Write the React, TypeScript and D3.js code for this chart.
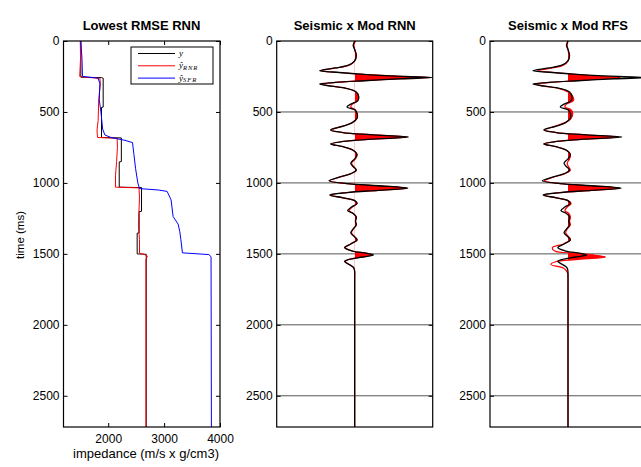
import React, { useRef, useEffect } from "react";
import * as d3 from "d3";

// axes
const TIME_MAX = 2720;
const TIME_TICKS = [0, 500, 1000, 1500, 2000, 2500];
const IMP_DOMAIN = [1200, 4000];
const IMP_TICKS = [2000, 3000, 4000];

// impedance logs (time in ms, impedance in m/s x g/cm3)
const trueTime = [0, 255, 258, 262, 466, 468, 680, 683, 850, 852, 1030, 1033, 1200, 1202, 1352, 1354, 1500, 1503, 2720];
const trueImp = [1510, 1510, 1880, 1910, 1910, 1880, 1880, 2235, 2235, 2197, 2197, 2596, 2596, 2553, 2553, 2518, 2518, 2680, 2680];

const rnrTime = [0, 120, 250, 256, 262, 300, 415, 560, 627, 662, 680, 685, 750, 850, 950, 1030, 1035, 1100, 1200, 1300, 1400, 1495, 1505, 1515, 1540, 2720];
const rnrImp = [1500, 1505, 1490, 1600, 1850, 1860, 1830, 1820, 1800, 1805, 1810, 2160, 2165, 2150, 2130, 2130, 2550, 2560, 2550, 2540, 2560, 2560, 2650, 2700, 2675, 2675];

const sfrTime = [0, 120, 250, 262, 300, 415, 500, 620, 662, 680, 700, 716, 800, 900, 1000, 1040, 1050, 1060, 1120, 1237, 1290, 1341, 1400, 1493, 1505, 1520, 2720];
const sfrImp = [1510, 1530, 1540, 1820, 1850, 1840, 1870, 1900, 1940, 2050, 2300, 2435, 2460, 2490, 2530, 2560, 2900, 3054, 3125, 3161, 3250, 3280, 3300, 3328, 3800, 3840, 3846];

// seismic traces (normalised amplitude)
const traceTime = [
  0, 30, 60, 100, 140, 170, 190, 209, 222, 235,
  250, 258, 266, 280, 292, 303, 318, 335, 360, 390,
  420, 445, 465, 485, 510, 545, 575, 600, 627, 645,
  660, 677, 692, 708, 725, 745, 770, 800, 830, 860,
  880, 910, 935, 960, 985, 1005, 1020, 1037, 1052, 1068,
  1085, 1105, 1125, 1145, 1170, 1195, 1215, 1240, 1270, 1296,
  1325, 1352, 1380, 1401, 1430, 1456, 1480, 1495, 1507, 1522,
  1540, 1554, 1575, 1600, 1630, 1670, 1720, 1800, 1950, 2150,
  2400, 2720,
];
const seismicAmp = [
  0, -0.02, 0, 0.02, 0, -0.08, -0.25, -0.45, -0.2, 0.12,
  0.65, 0.99, 0.6, 0.12, -0.25, -0.45, -0.3, -0.1, 0.02, 0.05,
  0.04, -0.05, -0.1, 0, 0.03, 0.03, -0.03, -0.15, -0.31, -0.15,
  0.2, 0.69, 0.2, -0.15, -0.31, -0.15, -0.02, 0.03, 0, -0.05,
  -0.03, 0.02, -0.05, -0.2, -0.33, -0.1, 0.3, 0.68, 0.3, -0.1,
  -0.32, -0.15, 0, 0.03, -0.04, -0.09, -0.02, 0.02, 0.01, 0.02,
  -0.02, -0.05, 0, 0.03, -0.05, -0.13, -0.03, 0.15, 0.24, 0.1,
  -0.08, -0.13, -0.07, -0.01, 0, 0, 0, 0, 0, 0,
  0, 0,
];
const rnnAmp = [
  0.01, -0.01, 0, 0.02, 0, -0.07, -0.24, -0.44, -0.2, 0.1,
  0.62, 0.95, 0.58, 0.12, -0.24, -0.44, -0.3, -0.1, 0.02, 0.05,
  0.04, -0.03, -0.05, 0.01, 0.03, 0.03, -0.03, -0.15, -0.3, -0.15,
  0.2, 0.67, 0.2, -0.15, -0.3, -0.15, -0.02, 0.03, 0.01, -0.04,
  -0.02, 0.02, -0.05, -0.2, -0.32, -0.1, 0.3, 0.67, 0.3, -0.1,
  -0.31, -0.15, 0, 0.03, -0.03, -0.07, -0.02, 0.02, 0.01, 0.02,
  -0.02, -0.04, 0, 0.03, -0.05, -0.12, -0.03, 0.14, 0.23, 0.1,
  -0.08, -0.12, -0.07, -0.01, 0, 0, 0, 0, 0, 0,
  0, 0,
];
const rfsAmp = [
  0, -0.01, 0, 0.01, 0, -0.06, -0.2, -0.38, -0.18, 0.08,
  0.45, 0.67, 0.42, 0.1, -0.22, -0.42, -0.3, -0.12, 0, 0.06,
  0.07, -0.02, -0.04, 0.04, 0.06, 0.04, -0.04, -0.16, -0.3, -0.15,
  0.18, 0.64, 0.2, -0.15, -0.31, -0.16, -0.02, 0.03, 0.02, -0.01,
  0, 0.03, -0.04, -0.19, -0.3, -0.1, 0.3, 0.66, 0.3, -0.1,
  -0.31, -0.15, 0, 0.04, -0.01, -0.04, 0.01, 0.03, 0.02, 0.03,
  -0.01, -0.03, 0.01, 0.03, -0.06, -0.2, -0.17, 0.1, 0.32, 0.48,
  0.1, -0.15, -0.22, -0.06, -0.01, 0, 0, 0, 0, 0,
  0, 0,
];

const W = 641;
const H = 467;
const TOP = 41;
const BOTTOM = 427;
const FONT = "'Liberation Sans', Arial, Helvetica, sans-serif";

const App = () => {
  const ref = useRef(null);

  useEffect(() => {
    const svg = d3.select(ref.current);
    svg.selectAll("*").remove();

    const y = d3.scaleLinear().domain([0, TIME_MAX]).range([TOP, BOTTOM]);
    const fmt = d3.format("d");

    const styleAxis = (g, size) => {
      g.select(".domain").remove();
      g.selectAll("line").attr("stroke", "#000");
      g.selectAll("text").attr("fill", "#000").attr("font-size", size).attr("font-family", FONT);
    };

    // ---------- panel 1: impedance logs ----------
    const p1 = { left: 63.5, right: 220 };
    const x1 = d3.scaleLinear().domain(IMP_DOMAIN).range([p1.left, p1.right]);
    const g1 = svg.append("g");

    g1.append("g")
      .attr("transform", `translate(${p1.left},0)`)
      .call(d3.axisLeft(y).tickValues(TIME_TICKS).tickSize(-4).tickPadding(4).tickFormat(fmt))
      .call((g) => styleAxis(g, 12));
    g1.append("g")
      .attr("transform", `translate(${p1.right},0)`)
      .call(d3.axisRight(y).tickValues(TIME_TICKS).tickSize(-4).tickFormat(() => ""))
      .call((g) => styleAxis(g, 12));
    g1.append("g")
      .attr("transform", `translate(0,${BOTTOM})`)
      .call(d3.axisBottom(x1).tickValues(IMP_TICKS).tickSize(-4).tickPadding(7).tickFormat(fmt))
      .call((g) => styleAxis(g, 12));
    g1.append("g")
      .attr("transform", `translate(0,${TOP})`)
      .call(d3.axisTop(x1).tickValues(IMP_TICKS).tickSize(-4).tickFormat(() => ""))
      .call((g) => styleAxis(g, 12));

    const logs = [
      { t: trueTime, v: trueImp, color: "#000" },
      { t: rnrTime, v: rnrImp, color: "#ff0000" },
      { t: sfrTime, v: sfrImp, color: "#0000ff" },
    ];
    const logLine = d3.line().x((d) => x1(d[1])).y((d) => y(d[0]));
    logs.forEach((l) => {
      g1.append("path")
        .attr("d", logLine(d3.zip(l.t, l.v)))
        .attr("fill", "none")
        .attr("stroke", l.color)
        .attr("stroke-width", 1);
    });

    g1.append("rect")
      .attr("x", p1.left).attr("y", TOP)
      .attr("width", p1.right - p1.left).attr("height", BOTTOM - TOP)
      .attr("fill", "none").attr("stroke", "#000").attr("stroke-width", 1.2);

    // legend
    const lg = g1.append("g");
    lg.append("rect").attr("x", 131).attr("y", 47).attr("width", 82).attr("height", 37)
      .attr("fill", "#fff").attr("stroke", "#000").attr("stroke-width", 1);
    const entries = [
      { color: "#000", sub: "" },
      { color: "#ff0000", sub: "RNR" },
      { color: "#0000ff", sub: "SFR" },
    ];
    entries.forEach((e, i) => {
      const ly = 53.5 + i * 12.3;
      lg.append("line").attr("x1", 138).attr("x2", 175).attr("y1", ly).attr("y2", ly)
        .attr("stroke", e.color).attr("stroke-width", 1);
      const t = lg.append("text").attr("x", 179).attr("y", ly + 2.5)
        .attr("font-family", "'Liberation Serif', 'DejaVu Serif', serif")
        .attr("font-style", "italic").attr("font-size", 9).attr("fill", "#000");
      if (e.sub) {
        t.append("tspan").text("ŷ");
        t.append("tspan").attr("font-size", 6.5).attr("dy", 1.8).attr("letter-spacing", 1).text(e.sub);
      } else {
        t.text("y");
      }
    });

    // titles and labels
    svg.append("text").attr("x", 141.5).attr("y", 30).attr("text-anchor", "middle")
      .attr("font-family", FONT).attr("font-weight", "bold").attr("font-size", 13).text("Lowest RMSE RNN");
    svg.append("text").attr("x", 146).attr("y", 458).attr("text-anchor", "middle")
      .attr("font-family", FONT).attr("font-size", 13).text("impedance (m/s x g/cm3)");
    svg.append("text").attr("transform", "translate(24,235) rotate(-90)").attr("text-anchor", "middle")
      .attr("font-family", FONT).attr("font-size", 11.5).text("time (ms)");

    // ---------- panels 2 and 3: wiggle traces ----------
    const panels = [
      { left: 276.7, model: rnnAmp, title: "Seismic x Mod RNN", id: "clipA" },
      { left: 490, model: rfsAmp, title: "Seismic x Mod RFS", id: "clipB" },
    ];
    const defs = svg.append("defs");

    panels.forEach((p) => {
      const right = p.left + 156;
      const xa = d3.scaleLinear().domain([-1, 1]).range([p.left, right]);
      const cx = xa(0);
      const g = svg.append("g");

      // grid lines
      g.selectAll("line.grid")
        .data(TIME_TICKS.filter((d) => d > 0))
        .join("line")
        .attr("x1", p.left).attr("x2", right)
        .attr("y1", (d) => y(d)).attr("y2", (d) => y(d))
        .attr("stroke", "#555").attr("stroke-width", 1);

      g.append("g")
        .attr("transform", `translate(${p.left},0)`)
        .call(d3.axisLeft(y).tickValues(TIME_TICKS).tickSize(-4).tickPadding(4).tickFormat(fmt))
        .call((a) => styleAxis(a, 12));
      g.append("g")
        .attr("transform", `translate(${right},0)`)
        .call(d3.axisRight(y).tickValues(TIME_TICKS).tickSize(-4).tickFormat(() => ""))
        .call((a) => styleAxis(a, 12));

      defs.append("clipPath").attr("id", p.id)
        .append("rect").attr("x", cx).attr("y", TOP).attr("width", 200).attr("height", BOTTOM - TOP);

      const modelPts = d3.zip(traceTime, p.model);
      const seisPts = d3.zip(traceTime, seismicAmp);
      const curve = d3.curveCatmullRom.alpha(0.5);

      const area = d3.area().curve(curve)
        .y((d) => y(d[0])).x0(cx).x1((d) => xa(d[1]));
      const trace = d3.line().curve(curve).x((d) => xa(d[1])).y((d) => y(d[0]));

      g.append("path").attr("d", area(modelPts)).attr("fill", "#ff0000")
        .attr("clip-path", `url(#${p.id})`);
      g.append("path").attr("d", trace(modelPts)).attr("fill", "none")
        .attr("stroke", "#ff0000").attr("stroke-width", 1.2);
      g.append("path").attr("d", trace(seisPts)).attr("fill", "none")
        .attr("stroke", "#000").attr("stroke-width", 1.3);

      g.append("rect")
        .attr("x", p.left).attr("y", TOP)
        .attr("width", right - p.left).attr("height", BOTTOM - TOP)
        .attr("fill", "none").attr("stroke", "#000").attr("stroke-width", 1.2);

      svg.append("text").attr("x", cx).attr("y", 30).attr("text-anchor", "middle")
        .attr("font-family", FONT).attr("font-weight", "bold").attr("font-size", 13).text(p.title);
    });
  }, []);

  return (
    <svg
      ref={ref}
      width={W}
      height={H}
      style={{ position: "absolute", left: 0, top: 0, background: "#fff" }}
    />
  );
};

export default App;
